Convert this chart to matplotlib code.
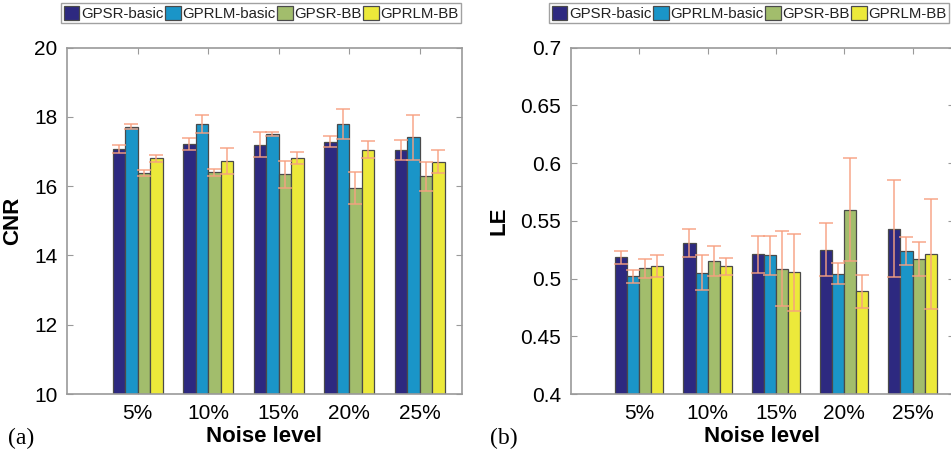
import numpy as np
import matplotlib
matplotlib.use('Agg')
import matplotlib.pyplot as plt

# Data: mean values and error half-widths per method and noise level
noise_levels = ['5%', '10%', '15%', '20%', '25%']
methods = ['GPSR-basic', 'GPRLM-basic', 'GPSR-BB', 'GPRLM-BB']
colors = ['#2d2980', '#1a95c8', '#a2bd6c', '#ece93a']

cnr_gpsr_basic = [17.08, 17.22, 17.20, 17.28, 17.05]
cnr_gprlm_basic = [17.72, 17.80, 17.52, 17.80, 17.41]
cnr_gpsr_bb = [16.38, 16.40, 16.34, 15.95, 16.29]
cnr_gprlm_bb = [16.81, 16.73, 16.81, 17.06, 16.71]

cnr_err_gpsr_basic = [0.12, 0.17, 0.36, 0.16, 0.28]
cnr_err_gprlm_basic = [0.08, 0.26, 0.06, 0.43, 0.66]
cnr_err_gpsr_bb = [0.08, 0.10, 0.38, 0.47, 0.42]
cnr_err_gprlm_bb = [0.10, 0.37, 0.17, 0.24, 0.34]

le_gpsr_basic = [0.5185, 0.5306, 0.521, 0.5251, 0.5433]
le_gprlm_basic = [0.502, 0.5052, 0.520, 0.5043, 0.5239]
le_gpsr_bb = [0.5089, 0.515, 0.5087, 0.5598, 0.517]
le_gprlm_bb = [0.5109, 0.5107, 0.5055, 0.489, 0.5213]

le_err_gpsr_basic = [0.0055, 0.012, 0.016, 0.023, 0.042]
le_err_gprlm_basic = [0.0055, 0.015, 0.017, 0.009, 0.012]
le_err_gpsr_bb = [0.008, 0.013, 0.0325, 0.0445, 0.015]
le_err_gprlm_bb = [0.0095, 0.0075, 0.0335, 0.0145, 0.0477]

cnr_vals = [cnr_gpsr_basic, cnr_gprlm_basic, cnr_gpsr_bb, cnr_gprlm_bb]
cnr_errs = [cnr_err_gpsr_basic, cnr_err_gprlm_basic, cnr_err_gpsr_bb, cnr_err_gprlm_bb]
le_vals = [le_gpsr_basic, le_gprlm_basic, le_gpsr_bb, le_gprlm_bb]
le_errs = [le_err_gpsr_basic, le_err_gprlm_basic, le_err_gpsr_bb, le_err_gprlm_bb]

W, H = 951, 461
plt.rcParams['font.family'] = ['Liberation Sans', 'DejaVu Sans']
fig = plt.figure(figsize=(W / 100, H / 100), dpi=100)

spine_color = '#9a9a9a'
err_color = '#f7a080'
bar_w = 0.177


def px_axes(x0, y0, x1, y1):
    return fig.add_axes([x0 / W, 1 - y1 / H, (x1 - x0) / W, (y1 - y0) / H])


def draw_panel(ax, vals, errs, ylim, yticks, yfmt, ylabel, tag, tag_x, legend_x):
    x = np.arange(1, len(noise_levels) + 1)
    handles = []
    for i, (v, e, c) in enumerate(zip(vals, errs, colors)):
        xpos = x + (i - 1.5) * bar_w
        b = ax.bar(xpos, v, width=bar_w, color=c, edgecolor='#4a4a4a',
                   linewidth=0.9, zorder=2, label=methods[i])
        handles.append(b)
        ax.errorbar(xpos, v, yerr=e, fmt='none', ecolor=err_color,
                    elinewidth=1.2, capsize=5, capthick=1.2, alpha=0.85, zorder=3)
    ax.set_xlim(0, 5.6)
    ax.set_ylim(*ylim)
    ax.set_xticks(x)
    ax.set_xticklabels(noise_levels)
    ax.set_yticks(yticks)
    ax.set_yticklabels([yfmt(t) for t in yticks])
    ax.tick_params(direction='in', length=4, color=spine_color, labelsize=15,
                   top=True, right=True, pad=7)
    for s in ax.spines.values():
        s.set_color(spine_color)
        s.set_linewidth(1.2)
    ax.set_xlabel('Noise level', fontsize=16, fontweight='bold', labelpad=2)
    ax.set_ylabel(ylabel, fontsize=16, fontweight='bold', labelpad=8)
    fig.text(tag_x / W, 1 - 438 / H, tag, family='Liberation Serif',
             fontsize=17, va='center', ha='left')
    leg = ax.legend(handles=handles, ncol=4, loc='upper left',
                    bbox_to_anchor=(legend_x / W, 1 - 3 / H),
                    bbox_transform=fig.transFigure, fontsize=10.8,
                    handlelength=1.05, handleheight=1.05, handletextpad=0.1,
                    columnspacing=0.1, borderpad=0.18, borderaxespad=0,
                    frameon=True, fancybox=False)
    leg.get_frame().set_edgecolor('#8a8a8a')
    leg.get_frame().set_linewidth(1.0)
    for t in leg.get_texts():
        t.set_color('#222222')


ax1 = px_axes(67, 47.7, 462, 394)
draw_panel(ax1, cnr_vals, cnr_errs, (10, 20), [10, 12, 14, 16, 18, 20],
           lambda t: f'{t:g}', 'CNR', '(a)', 8, 61)

ax2 = px_axes(571, 47.7, 953.5, 394)
draw_panel(ax2, le_vals, le_errs, (0.4, 0.7),
           [0.4, 0.45, 0.5, 0.55, 0.6, 0.65, 0.7],
           lambda t: f'{t:g}', 'LE', '(b)', 490, 549)

fig.savefig('out.png', dpi=100)
